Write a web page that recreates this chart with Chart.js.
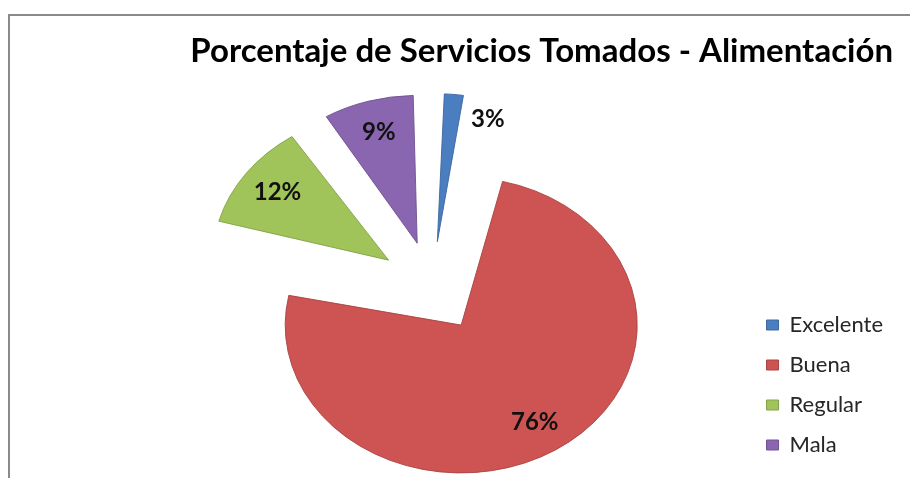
<!DOCTYPE html>
<html lang="es">
<head>
<meta charset="utf-8">
<title>Porcentaje de Servicios Tomados - Alimentación</title>
<script src="https://cdn.jsdelivr.net/npm/chart.js@4.4.1/dist/chart.umd.min.js"></script>
<style>
    html, body { margin: 0; padding: 0; background: #ffffff; overflow: hidden; }
    #marco {
        position: absolute; left: 8px; top: 14px;
        width: 1000px; height: 600px;
        border: 2px solid #8a8a8a; box-sizing: border-box;
    }
    #contenedor { position: absolute; left: 0; top: 0; width: 910px; height: 478px; }
</style>
</head>
<body>
<div id="marco"></div>
<div id="contenedor"><canvas id="graficoAlimentacion" width="910" height="478"></canvas></div>
<script>
// datos del gráfico
const categorias = ['Excelente', 'Buena', 'Regular', 'Mala'];
const porcentajes = [3, 76, 12, 9];
const etiquetas = ['3%', '76%', '12%', '9%'];

const colores = ['#4a7ec0', '#cd5452', '#a0c45a', '#8a66b0'];
const bordes = ['#3c689e', '#a84442', '#84a24a', '#70538f'];

const RADIO = 176;        // radio horizontal de la torta
const ESCALA_Y = 0.84;    // inclinación (torta 3D vista en perspectiva)
const SEPARACION = 54;    // distancia de separación de cada porción

document.addEventListener('DOMContentLoaded', function() {

    // aplasta la torta verticalmente para que parezca una elipse
    const pluginElipse = {
        id: 'elipse',
        beforeDatasetsDraw(chart) {
            const meta = chart.getDatasetMeta(0);
            // chart.js agranda el radio en (offset/4) * (1 - sin(arco)); se compensa
            meta.data.forEach(arc => {
                const arco = arc.endAngle - arc.startAngle;
                const fix = 1 - Math.sin(Math.min(Math.PI, arco));
                arc.outerRadius = RADIO - SEPARACION * fix;
            });
            const centro = meta.data[0];
            const ctx = chart.ctx;
            ctx.save();
            ctx.translate(centro.x, centro.y);
            ctx.scale(1, ESCALA_Y);
            ctx.translate(-centro.x, -centro.y);
        },
        afterDatasetsDraw(chart) {
            const ctx = chart.ctx;
            ctx.restore();

            // etiquetas de porcentaje
            ctx.save();
            ctx.font = 'bold 24px Lato';
            ctx.fillStyle = '#111111';
            ctx.textBaseline = 'middle';
            chart.getDatasetMeta(0).data.forEach((arc, i) => {
                const p = arc.getProps(['x', 'y', 'startAngle', 'endAngle']);
                const medio = (p.startAngle + p.endAngle) / 2;
                const arco = p.endAngle - p.startAngle;
                const vx = p.x + Math.cos(medio) * SEPARACION;
                const vy = Math.sin(medio) * SEPARACION;
                let x, dy;
                if (arco < 0.3) {
                    // porción angosta: etiqueta a la derecha
                    x = vx + Math.cos(p.endAngle) * RADIO * 0.84 + 6;
                    dy = vy + Math.sin(p.endAngle) * RADIO * 0.84;
                    ctx.textAlign = 'left';
                } else {
                    x = vx + Math.cos(medio) * RADIO * 0.78;
                    dy = vy + Math.sin(medio) * RADIO * 0.78;
                    ctx.textAlign = 'center';
                }
                ctx.fillText(etiquetas[i], x, p.y + dy * ESCALA_Y);
            });
            ctx.restore();
        }
    };

    const ctx = document.getElementById('graficoAlimentacion').getContext('2d');
    window.graficoAlimentacion = new Chart(ctx, {
        type: 'pie',
        data: {
            labels: categorias,
            datasets: [{
                data: porcentajes,
                backgroundColor: colores,
                borderColor: bordes,
                borderWidth: 1,
                offset: 4 * SEPARACION,   // chart.js desplaza offset/4
                hoverOffset: 0,
                clip: false
            }]
        },
        options: {
            responsive: false,
            animation: false,
            events: [],
            radius: RADIO,
            layout: {
                padding: { left: 116, right: 17, top: 0, bottom: 4 }
            },
            plugins: {
                title: {
                    display: true,
                    text: 'Porcentaje de Servicios Tomados - Alimentación',
                    align: 'end',
                    color: '#000000',
                    font: { family: 'Lato', size: 33, weight: 'bold' },
                    padding: { top: 32, bottom: 28 }
                },
                legend: {
                    position: 'right',
                    align: 'end',
                    labels: {
                        color: '#262626',
                        font: { family: 'Lato', size: 22 },
                        boxWidth: 12,
                        boxHeight: 10,
                        padding: 18
                    }
                },
                tooltip: { enabled: false }
            }
        },
        plugins: [pluginElipse]
    });

    console.log('Gráfico de alimentación listo');
});
</script>
</body>
</html>
